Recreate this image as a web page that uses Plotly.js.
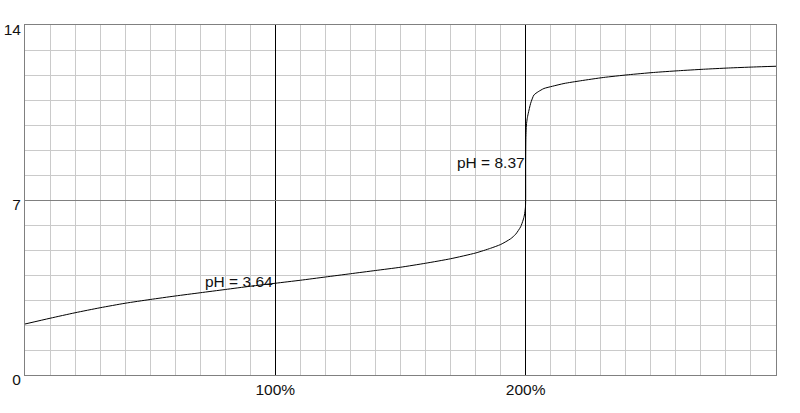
<!DOCTYPE html>
<html>
<head>
<meta charset="utf-8">
<script src="https://cdn.plot.ly/plotly-3.0.1.min.js"></script>
<style>html,body{margin:0;padding:0;background:#fff;}#chart{width:800px;height:413px;}</style>
</head>
<body>
<div id="chart"></div>
<script>
const addedPct = [0, 10, 20, 30, 40, 50, 60, 70, 80, 90,
  100, 110, 120, 130, 140, 150, 160, 170, 180, 186, 190, 194, 196, 198, 199, 199.5, 199.9,
  200, 200, 200.1, 200.3, 200.6, 201, 202, 203.3, 205, 207.3, 210.7, 215.3, 222,
  231, 241, 251, 261, 271, 281, 291, 300];
const pHValues = [2.04, 2.27, 2.49, 2.69, 2.87, 3.02, 3.16, 3.29, 3.42, 3.55,
  3.67, 3.79, 3.92, 4.05, 4.18, 4.31, 4.47, 4.65, 4.88, 5.07, 5.22, 5.45, 5.63, 5.93, 6.2, 6.4, 6.7,
  7.0, 8.37, 9.5, 10.0, 10.25, 10.45, 10.87, 11.2, 11.33, 11.46, 11.55, 11.66, 11.77,
  11.9, 12.01, 12.1, 12.17, 12.23, 12.28, 12.32, 12.35];

const xTickVals = [100, 200];
const xTickText = ['100%', '200%'];
const yTickVals = [0, 7, 14];
const yTickText = ['0', '7', '14'];

const labelTexts = ['pH = 3.64', 'pH = 8.37'];

const font = {family: 'Liberation Sans, Arial, sans-serif', size: 15.5, color: '#111'};

const trace = {
  x: addedPct, y: pHValues, type: 'scatter', mode: 'lines',
  line: {color: '#000', width: 1, shape: 'spline', smoothing: 0.6}, hoverinfo: 'skip', showlegend: false
};

const layout = {
  width: 800, height: 413,
  margin: {l: 25, r: 24, t: 25, b: 38},
  paper_bgcolor: '#fff', plot_bgcolor: '#fff',
  font: font,
  showlegend: false,
  xaxis: {
    range: [0, 300], tickmode: 'array', tickvals: xTickVals, ticktext: xTickText,
    showgrid: true, gridcolor: '#000', gridwidth: 1,
    minor: {tickmode: 'linear', tick0: 0, dtick: 10, showgrid: true, gridcolor: '#cacaca', gridwidth: 1, ticks: ''},
    showline: true, linecolor: '#808080', linewidth: 1, mirror: true,
    zeroline: false, ticks: '', fixedrange: true, tickfont: font
  },
  yaxis: {
    range: [0, 14], tickmode: 'array', tickvals: yTickVals, ticktext: yTickText,
    showgrid: true, gridcolor: '#808080', gridwidth: 1,
    minor: {tickmode: 'linear', tick0: 0, dtick: 1, showgrid: true, gridcolor: '#cacaca', gridwidth: 1, ticks: ''},
    showline: true, linecolor: '#808080', linewidth: 1, mirror: true,
    zeroline: false, ticks: '', fixedrange: true, tickfont: font,
    ticklabelshift: 5, ticklabelstandoff: 0
  },
  annotations: [
    {x: 100, y: 3.73, xref: 'x', yref: 'y', text: labelTexts[0], showarrow: false,
     xanchor: 'right', yanchor: 'middle', xshift: 0, font: {family: font.family, size: 15.5, color: '#111'}},
    {x: 200, y: 8.49, xref: 'x', yref: 'y', text: labelTexts[1], showarrow: false,
     xanchor: 'right', yanchor: 'middle', xshift: 1, font: {family: font.family, size: 15.5, color: '#111'}}
  ]
};

Plotly.newPlot('chart', [trace], layout, {displayModeBar: false, staticPlot: true});
</script>
</body>
</html>
